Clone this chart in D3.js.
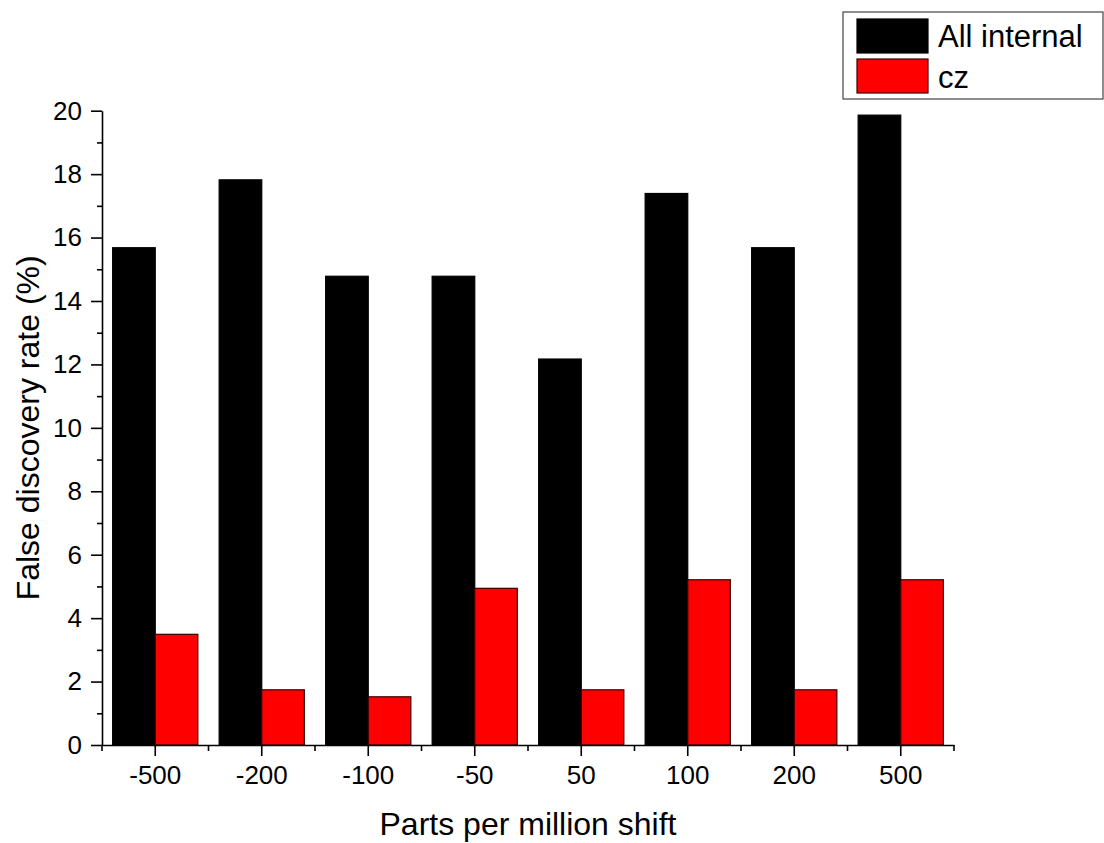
<!DOCTYPE html>
<html>
<head>
<meta charset="utf-8">
<script src="https://cdn.jsdelivr.net/npm/d3@7"></script>
<style>
  body { margin: 0; background: #fff; }
  svg { display: block; font-family: "Liberation Sans", Arial, sans-serif; }
</style>
</head>
<body>
<svg id="chart" width="1104" height="843"></svg>
<script>
// ppm shift categories and false discovery rates (%)
const categories = ["-500", "-200", "-100", "-50", "50", "100", "200", "500"];
const seriesNames = ["All internal", "cz"];
const allInternal = [15.68, 17.82, 14.78, 14.78, 12.17, 17.39, 15.68, 19.86];
const cz = [3.49, 1.74, 1.52, 4.94, 1.74, 5.21, 1.74, 5.21];
const colors = ["#000000", "#ff0000"];
const yTicksMajor = [0, 2, 4, 6, 8, 10, 12, 14, 16, 18, 20];

const svg = d3.select("#chart");
const plotLeft = 102, plotRight = 954, plotTop = 110.7, plotBottom = 745;

const x = d3.scaleBand().domain(categories).range([plotLeft, plotRight]).paddingInner(0).paddingOuter(0);
const xs = d3.scaleBand().domain(seriesNames).range([0, x.bandwidth()]).paddingInner(0).paddingOuter(0.25);
const y = d3.scaleLinear().domain([0, 20]).range([plotBottom, plotTop]);

const seriesValues = [allInternal, cz];

// bars
seriesNames.forEach((name, si) => {
  svg.append("g")
    .selectAll("rect")
    .data(categories.map((c, i) => ({ c, v: seriesValues[si][i] })))
    .join("rect")
    .attr("x", d => x(d.c) + xs(name))
    .attr("y", d => y(d.v))
    .attr("width", xs.bandwidth())
    .attr("height", d => plotBottom - y(d.v))
    .attr("fill", colors[si])
    .attr("stroke", si === 0 ? "#000" : "#3a0000")
    .attr("stroke-width", 1.2);
});

// y axis with major ticks every 2, minor every 1
const yAxis = d3.axisLeft(y).tickValues(yTicksMajor).tickSize(11).tickPadding(9).tickSizeOuter(0);
const gy = svg.append("g").attr("transform", `translate(${plotLeft},0)`).call(yAxis);
gy.select(".domain").attr("stroke-width", 1.6);
gy.selectAll(".tick line").attr("stroke-width", 1.6);
gy.selectAll(".tick text").attr("font-size", 26).attr("fill", "#000")
  .attr("font-family", "'Liberation Sans', Arial, sans-serif");
const gyMinor = svg.append("g").attr("transform", `translate(${plotLeft},0)`)
  .call(d3.axisLeft(y).tickValues(d3.range(1, 20, 2)).tickSize(5).tickFormat("").tickSizeOuter(0));
gyMinor.select(".domain").remove();
gyMinor.selectAll(".tick line").attr("stroke-width", 1.6);

// x axis: major ticks at category centres, minor ticks at boundaries
const xAxis = d3.axisBottom(x).tickSize(11).tickPadding(10).tickSizeOuter(0);
const gx = svg.append("g").attr("transform", `translate(0,${plotBottom})`).call(xAxis);
gx.select(".domain").attr("stroke-width", 1.6);
gx.selectAll(".tick line").attr("stroke-width", 1.6);
gx.selectAll(".tick text").attr("font-size", 26).attr("fill", "#000")
  .attr("font-family", "'Liberation Sans', Arial, sans-serif");
const boundaries = categories.map(c => x(c)).concat([plotRight]);
svg.append("g").selectAll("line").data(boundaries).join("line")
  .attr("x1", d => d).attr("x2", d => d)
  .attr("y1", plotBottom).attr("y2", plotBottom + 6)
  .attr("stroke", "#000").attr("stroke-width", 1.6);

// axis titles
svg.append("text")
  .attr("x", (plotLeft + plotRight) / 2).attr("y", 835)
  .attr("text-anchor", "middle").attr("font-size", 32)
  .text("Parts per million shift");
svg.append("text")
  .attr("transform", `translate(39,${(plotTop + plotBottom) / 2}) rotate(-90)`)
  .attr("text-anchor", "middle").attr("font-size", 32)
  .text("False discovery rate (%)");

// legend
const lg = svg.append("g");
lg.append("rect").attr("x", 843).attr("y", 12).attr("width", 260).attr("height", 87)
  .attr("fill", "#fff").attr("stroke", "#444").attr("stroke-width", 1.2);
seriesNames.forEach((name, i) => {
  lg.append("rect").attr("x", 857).attr("y", 19 + i * 40).attr("width", 71).attr("height", 34)
    .attr("fill", colors[i]).attr("stroke", i === 0 ? "#000" : "#3a0000").attr("stroke-width", 1.2);
  lg.append("text").attr("x", 938).attr("y", 47 + i * 41).attr("font-size", 31).text(name);
});
</script>
</body>
</html>
